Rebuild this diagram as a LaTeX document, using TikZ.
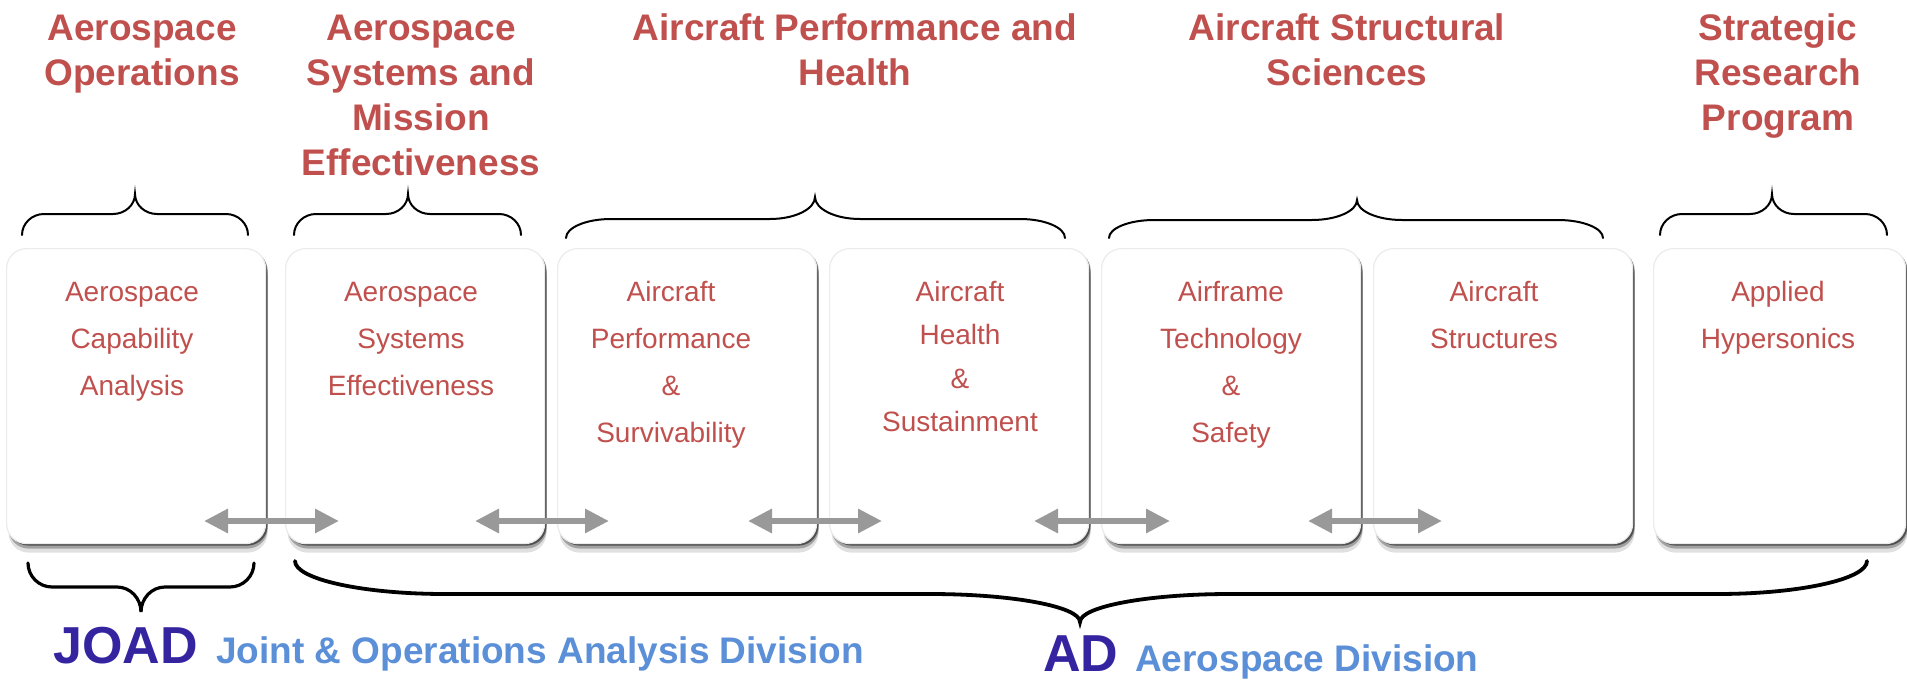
\documentclass[tikz,border=0pt]{standalone}
\usepackage{fontspec}
\setmainfont{Liberation Sans}
\usetikzlibrary{arrows.meta}

\definecolor{titlered}{HTML}{C0504D}
\definecolor{joadblue}{HTML}{3424A0}
\definecolor{divblue}{HTML}{5B8FD8}
\definecolor{arrowgray}{HTML}{999999}

% curly brace: [style] x1, x2, x-tip, y-end, hook width, hook height, tip height, direction (+1 up, -1 down)
\newcommand{\curlybrace}[9][]{%
  \draw[#1] (#2,#5)
    .. controls (#2,{#5-(#9)*0.55*#7}) and ({#2+0.45*#6},{#5-(#9)*#7}) .. ({#2+#6},{#5-(#9)*#7})
    -- ({#4-#6},{#5-(#9)*#7})
    .. controls ({#4-0.45*#6},{#5-(#9)*#7}) and (#4,{#5-(#9)*(#7+0.45*#8)}) .. (#4,{#5-(#9)*(#7+#8)})
    .. controls (#4,{#5-(#9)*(#7+0.45*#8)}) and ({#4+0.45*#6},{#5-(#9)*#7}) .. ({#4+#6},{#5-(#9)*#7})
    -- ({#3-#6},{#5-(#9)*#7})
    .. controls ({#3-0.45*#6},{#5-(#9)*#7}) and (#3,{#5-(#9)*0.55*#7}) .. (#3,#5);%
}

\tikzset{
  softshadow/.style={
    preaction={fill=black, opacity=0.50, transform canvas={xshift=2pt, yshift=-2pt}},
    preaction={fill=black, opacity=0.28, transform canvas={xshift=2pt, yshift=-5pt}},
    preaction={fill=black, opacity=0.12, transform canvas={xshift=2pt, yshift=-9pt}}},
  unitbox/.style={softshadow, draw=black!8, line width=1.2pt, fill=white,
    rounded corners=20pt, minimum width=259pt, minimum height=295pt,
    anchor=north west, inner sep=0pt},
  % anchor=base sits on the baseline of the last line
  boxtext/.style={font=\fontsize{28}{47}\selectfont, text=titlered,
    align=center, anchor=base, inner sep=0pt},
  titletext/.style={font=\fontsize{37}{45}\selectfont\bfseries, text=titlered,
    align=center, anchor=base, inner sep=0pt},
  linkarrow/.style={draw=arrowgray, line width=6pt,
    {Triangle[length=24pt,width=23pt]}-{Triangle[length=24pt,width=23pt]}},
  bracetop/.style={line width=2pt, line cap=round},
  bracebottom/.style={line width=3.2pt, line cap=round},
  acronym/.style={font=\fontsize{52}{60}\selectfont\bfseries, text=joadblue,
    anchor=base west, inner sep=0pt},
  divname/.style={font=\fontsize{37}{44}\selectfont\bfseries, text=divblue,
    anchor=base west, inner sep=0pt}
}

\begin{document}
\begin{tikzpicture}[x=1pt, y=-1pt]
\useasboundingbox (0,0) rectangle (1907,680);

% unit boxes
\node[unitbox] (b1) at (6,248) {};
\node[unitbox] (b2) at (285,248) {};
\node[unitbox] (b3) at (557,248) {};
\node[unitbox] (b4) at (829,248) {};
\node[unitbox] (b5) at (1101,248) {};
\node[unitbox] (b6) at (1373,248) {};
\node[unitbox, minimum width=252pt] (b7) at (1653,248) {};

% unit names (first line baseline at y=301)
\node[boxtext] (t1) at (132,395) {Aerospace\\Capability\\Analysis};
\node[boxtext] (t2) at (411,395) {Aerospace\\Systems\\Effectiveness};
\node[boxtext] (t3) at (671,442) {Aircraft\\Performance\\\&\\Survivability};
\node[boxtext, font=\fontsize{28}{43.5}\selectfont] (t4) at (960,431.5) {Aircraft\\Health\\\&\\Sustainment};
\node[boxtext] (t5) at (1231,442) {Airframe\\Technology\\\&\\Safety};
\node[boxtext] (t6) at (1494,348) {Aircraft\\Structures};
\node[boxtext] (t7) at (1778,348) {Applied\\Hypersonics};

% links between neighbouring units
\coordinate (a1w) at (204,521);  \coordinate (a1e) at (339,521);
\coordinate (a2w) at (475,521);  \coordinate (a2e) at (609,521);
\coordinate (a3w) at (748,521);  \coordinate (a3e) at (882,521);
\coordinate (a4w) at (1034,521); \coordinate (a4e) at (1170,521);
\coordinate (a5w) at (1308,521); \coordinate (a5e) at (1442,521);
\draw[linkarrow] (a1w) -- (a1e);
\draw[linkarrow] (a2w) -- (a2e);
\draw[linkarrow] (a3w) -- (a3e);
\draw[linkarrow] (a4w) -- (a4e);
\draw[linkarrow] (a5w) -- (a5e);

% research areas (first line baseline at y=40)
\node[titletext] (h1) at (142,85) {Aerospace\\Operations};
\node[titletext] (h2) at (421,175) {Aerospace\\Systems and\\Mission\\Effectiveness};
\node[titletext] (h3) at (855,85) {Aircraft Performance and\\Health};
\node[titletext] (h4) at (1347,85) {Aircraft Structural\\Sciences};
\node[titletext] (h5) at (1778,130) {Strategic\\Research\\Program};

% braces grouping units under research areas
\curlybrace[bracetop]{22}{248}{135}{235}{22}{21}{20}{1}
\curlybrace[bracetop]{294}{521}{408}{235}{22}{21}{20}{1}
\curlybrace[bracetop]{566}{1065}{815}{238}{45}{19}{22}{1}
\curlybrace[bracetop]{1109}{1603}{1357}{238}{45}{18}{20}{1}
\curlybrace[bracetop]{1660}{1887}{1772}{235}{22}{21}{20}{1}

% braces grouping units under divisions
\curlybrace[bracebottom]{28}{254}{141}{563}{24}{24}{25}{-1}
\curlybrace[bracebottom, line width=3.8pt]{295}{1867}{1080}{561}{150}{33}{28}{-1}

% divisions
\node[acronym] (joad) at (53,663) {JOAD};
\node[divname] (joadname) at (216,663) {Joint \& Operations Analysis Division};
\node[acronym] (ad) at (1043,671) {AD};
\node[divname] (adname) at (1135,671) {Aerospace Division};
\end{tikzpicture}
\end{document}
